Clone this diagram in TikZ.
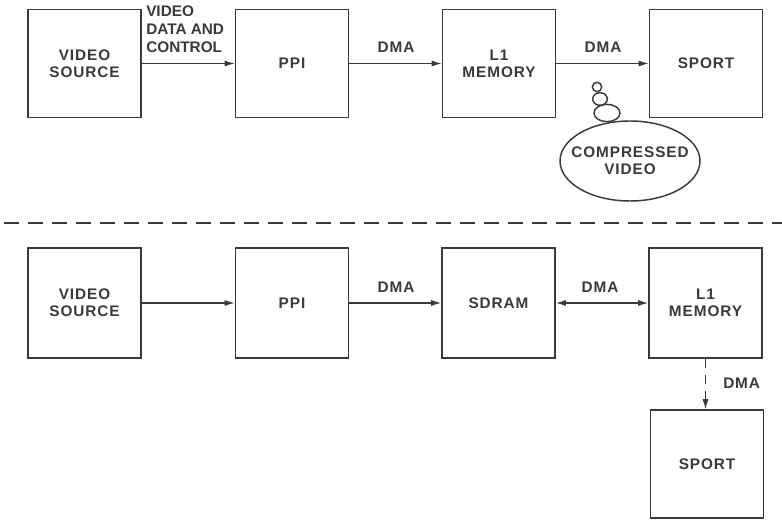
\documentclass[tikz,border=0pt]{standalone}
\usepackage{fontspec}
\setmainfont{Liberation Sans}
\usetikzlibrary{arrows.meta,shapes.geometric}
\definecolor{ink}{HTML}{3A3A3A}
\begin{document}
\begin{tikzpicture}[x=0.75pt,y=-0.75pt,
  lbl/.style={font=\fontsize{11.5pt}{13pt}\selectfont\bfseries\addfontfeature{LetterSpace=6}, text=ink, inner sep=0pt, align=center},
  box/.style={draw=ink, line width=1.2pt, minimum width=84.75pt, minimum height=81pt, lbl},
  conn/.style={draw=ink, line width=0.8pt, -{Latex[length=7.5pt,width=4.5pt]}},
  bub/.style={draw=ink, line width=1.1pt, ellipse, inner sep=0pt}]
\useasboundingbox (0,0) rectangle (782,520);
% top row
\node[box] (vs1) at (84.5,63.5) {VIDEO\\SOURCE};
\node[box] (ppi1) at (292,63.5) {PPI};
\node[box] (l11) at (499,63.5) {L1\\MEMORY};
\node[box] (sp1) at (706,63.5) {SPORT};
\draw[conn] (vs1) -- (ppi1);
\draw[conn] (ppi1) -- (l11);
\draw[conn] (l11) -- (sp1);
\node[lbl, align=left, anchor=north west, font=\fontsize{11.5pt}{13.5pt}\selectfont\bfseries] (vdc) at (146,6) {VIDEO\\DATA AND\\CONTROL};
\node[lbl] (d1) at (396,47) {DMA};
\node[lbl] (d2) at (603,47) {DMA};
% thought bubble
\node[bub, minimum width=105pt, minimum height=60pt] (cv) at (630,161) {};
\node[lbl] (cvt) at (cv.center) {COMPRESSED\\VIDEO};
\node[bub, minimum width=19.5pt, minimum height=13pt] (b3) at (607,113) {};
\node[bub, minimum width=11pt, minimum height=9.5pt] (b2) at (600,99) {};
\node[bub, minimum width=7pt, minimum height=7pt] (b1) at (597,87) {};
% separator
\coordinate (sl) at (4,223);
\coordinate (sr) at (782,223);
\draw[ink, line width=1.1pt, dash pattern=on 11.5pt off 6.5pt] (sl) -- (sr);
% bottom row
\node[box, minimum height=82.5pt] (vs2) at (84.5,303) {VIDEO\\SOURCE};
\node[box, minimum height=82.5pt] (ppi2) at (292,303) {PPI};
\node[box, minimum height=82.5pt] (sd) at (498.5,303) {SDRAM};
\node[box, minimum height=82.5pt] (l12) at (705.5,303) {L1\\MEMORY};
\node[box] (sp2) at (707,464) {SPORT};
\draw[conn] (vs2) -- (ppi2);
\draw[conn] (ppi2) -- (sd);
\draw[conn, {Latex[length=7.5pt,width=4.5pt]}-{Latex[length=7.5pt,width=4.5pt]}] (sd) -- (l12);
\draw[conn, dash pattern=on 7pt off 5pt] (l12.south) -- (l12.south |- sp2.north);
\node[lbl] (d3) at (396,287) {DMA};
\node[lbl] (d4) at (600,287) {DMA};
\node[lbl, anchor=west] (d5) at (723,383) {DMA};
\end{tikzpicture}
\end{document}
